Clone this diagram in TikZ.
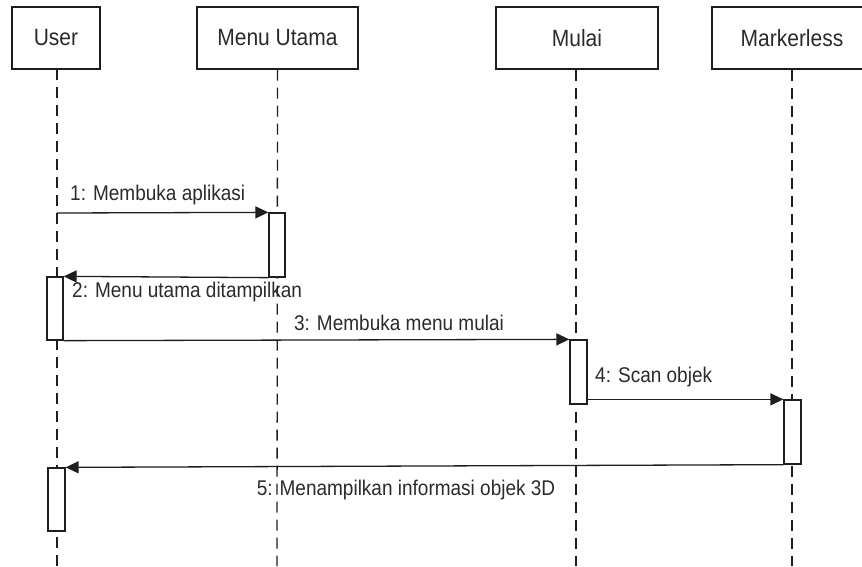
\documentclass[tikz,border=0pt]{standalone}
\usepackage{fontspec}
\usepackage{graphicx}
\setmainfont{Liberation Sans}
\usetikzlibrary{arrows.meta,calc}
\definecolor{ink}{HTML}{1E1E1E}
\definecolor{txt}{HTML}{2B2B2B}
\newcommand{\vst}[1]{\scalebox{1}[1.12]{#1}}
\tikzset{
  actor/.style={draw=ink, line width=1.3pt, fill=white, minimum height=62pt, inner sep=0pt,
    text=txt, font=\fontsize{21}{24}\selectfont},
  lifeline/.style={draw=ink, line width=1.3pt, dash pattern=on 11pt off 7pt},
  actbox/.style={draw=ink, line width=1.3pt, fill=white, minimum width=16pt, inner sep=0pt},
  msg/.style={draw=ink, line width=1.3pt, -{Triangle[length=13pt,width=12pt]}},
  lbl/.style={text=txt, font=\fontsize{19}{22}\selectfont, inner sep=0pt}
}
\begin{document}
\begin{tikzpicture}[x=1pt,y=-1pt]
\useasboundingbox (0,0) rectangle (862,566);
\fill[white] (0,0) rectangle (862,566);
% actors
\node[actor, minimum width=88pt] (user) at (56,38) {\vst{User}};
\node[actor, minimum width=161pt] (menu) at (277.5,38) {\vst{Menu Utama}};
\node[actor, minimum width=162pt] (mulai) at (577,38) {\vst{Mulai}};
\node[actor, minimum width=160pt] (mark) at (792,38) {\vst{Markerless}};
% lifeline ends
\coordinate (uEnd) at (57,566);
\coordinate (mEnd) at (277,566);
\coordinate (lEnd) at (576,566);
\coordinate (kEnd) at (792,566);
\coordinate (uTop) at (57,69);
\draw[lifeline] (uTop) -- (uEnd);
\draw[lifeline] (menu.south) -- (mEnd);
\draw[lifeline] (mulai.south -| lEnd) -- (lEnd);
\draw[lifeline] (mark.south) -- (kEnd);
% activations
\node[actbox, minimum height=64pt] (muact) at (277,245) {};
\node[actbox, minimum height=63pt] (uact1) at (55,308.5) {};
\node[actbox, minimum width=17pt, minimum height=64pt] (mlact) at (578.5,372) {};
\node[actbox, minimum width=17pt, minimum height=64pt] (mkact) at (792.5,432) {};
\node[actbox, minimum width=17pt, minimum height=63pt] (uact2) at (56.5,499.5) {};
% messages
\coordinate (m1start) at (57,213);
\draw[msg] (m1start) -- (muact.north west);
\draw[msg] (muact.south west) -- (uact1.north east);
\draw[msg] (uact1.south east) -- (mlact.north west);
\draw[msg] (mlact.east |- mkact.north) -- (mkact.north west);
\draw[msg] (mkact.south west) -- (uact2.north east);
% labels
\node[lbl, anchor=west] (l1) at (70,195) {\vst{1: Membuka aplikasi}};
\node[lbl, anchor=west] (l2) at (72,292) {\vst{2: Menu utama ditampilkan}};
\node[lbl] (l3) at (399,323) {\vst{3: Membuka menu mulai}};
\node[lbl, anchor=west] (l4) at (595,377) {\vst{4: Scan objek}};
\node[lbl] (l5) at (406,490) {\vst{5: Menampilkan informasi objek 3D}};
\end{tikzpicture}
\end{document}
